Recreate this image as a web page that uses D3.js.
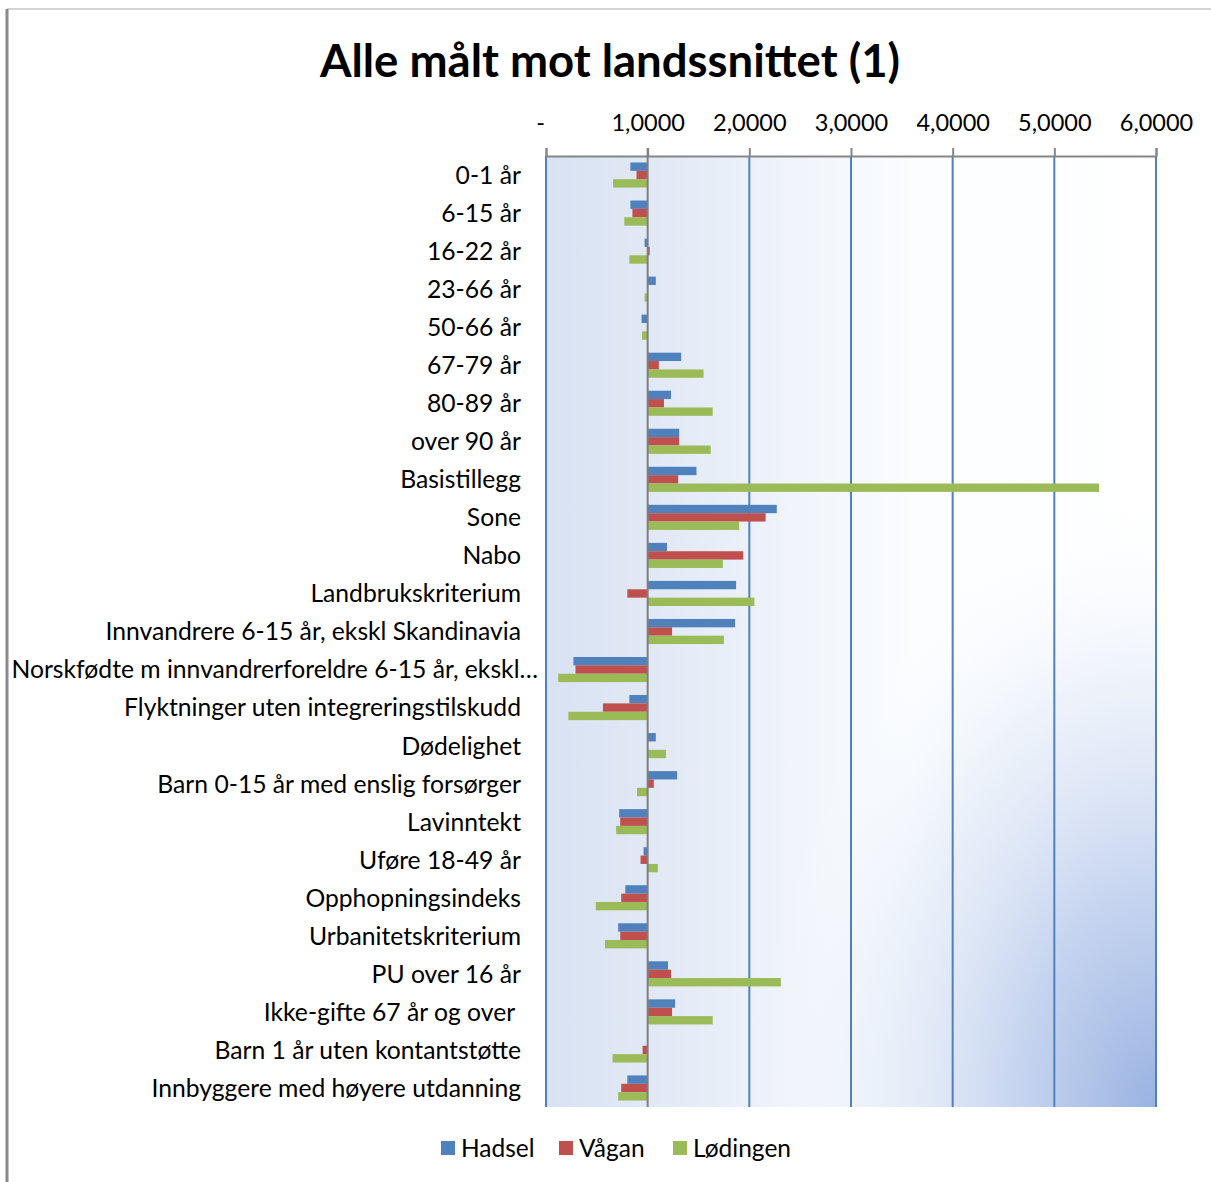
<!DOCTYPE html>
<html>
<head>
<meta charset="utf-8">
<script src="https://cdn.jsdelivr.net/npm/d3@7"></script>
<style>
  html, body { margin: 0; padding: 0; background: #fff; }
  svg { display: block; }
  text { font-family: Lato, "Open Sans", "DejaVu Sans", sans-serif; fill: #000; }
</style>
</head>
<body>
<svg id="chart" width="1211" height="1182"></svg>
<script>
// Index values per municipality, measured against the national average (1.0)
const categories = [
  "0-1 år", "6-15 år", "16-22 år", "23-66 år", "50-66 år", "67-79 år", "80-89 år",
  "over 90 år", "Basistillegg", "Sone", "Nabo", "Landbrukskriterium",
  "Innvandrere 6-15 år, ekskl Skandinavia",
  "Norskfødte m innvandrerforeldre 6-15 år, ekskl…",
  "Flyktninger uten integreringstilskudd", "Dødelighet",
  "Barn 0-15 år med enslig forsørger", "Lavinntekt", "Uføre 18-49 år",
  "Opphopningsindeks", "Urbanitetskriterium", "PU over 16 år",
  "Ikke-gifte 67 år og over\u00a0", "Barn 1 år uten kontantstøtte",
  "Innbyggere med høyere utdanning"
];
const seriesNames = ["Hadsel", "Vågan", "Lødingen"];
const hadsel = [0.83, 0.83, 0.97, 1.08, 0.94, 1.33, 1.23, 1.31, 1.48, 2.27, 1.19, 1.87, 1.86,
  0.27, 0.82, 1.08, 1.29, 0.72, 0.96, 0.78, 0.71, 1.20, 1.27, 1.00, 0.80];
const vagan = [0.89, 0.85, 1.02, 1.00, 0.995, 1.11, 1.16, 1.31, 1.30, 2.16, 1.94, 0.80, 1.24,
  0.29, 0.56, 1.00, 1.06, 0.73, 0.93, 0.74, 0.73, 1.23, 1.24, 0.95, 0.74];
const lodingen = [0.66, 0.77, 0.82, 0.97, 0.945, 1.55, 1.64, 1.62, 5.44, 1.90, 1.74, 2.05, 1.75,
  0.12, 0.22, 1.18, 0.895, 0.69, 1.10, 0.49, 0.58, 2.31, 1.64, 0.655, 0.71];
const tickValues = [0, 1, 2, 3, 4, 5, 6];
const tickLabels = ["-", "1,0000", "2,0000", "3,0000", "4,0000", "5,0000", "6,0000"];
const colors = ["#4f81bd", "#c0504d", "#9bbb59"];
const baseline = 1;

const seriesValues = [hadsel, vagan, lodingen];
const svg = d3.select("#chart");

const plot = { left: 546, right: 1156, top: 156, bottom: 1107 };

const x = d3.scaleLinear().domain([0, 6]).range([plot.left, plot.right]);
const y = d3.scaleBand().domain(categories).range([plot.top, plot.bottom]).paddingInner(0.34).paddingOuter(0.17);
const ySeries = d3.scaleBand().domain(seriesNames).range([0, y.bandwidth()]);

// chart frame
svg.append("line").attr("x1", 7).attr("x2", 1211).attr("y1", 9).attr("y2", 9)
  .attr("stroke", "#d4d4d4").attr("stroke-width", 2);
svg.append("line").attr("x1", 7).attr("x2", 7).attr("y1", 9).attr("y2", 1182)
  .attr("stroke", "#8a8a8a").attr("stroke-width", 3);

// plot background gradients
const defs = svg.append("defs");
const lin = defs.append("linearGradient").attr("id", "bgLin").attr("x1", "0").attr("x2", "1").attr("y1", "0").attr("y2", "0");
[[0, "#d8e2f3"], [0.2, "#e3eaf6"], [0.42, "#f1f5fb"], [0.6, "#fbfdff"], [1, "#ffffff"]]
  .forEach(([o, c]) => lin.append("stop").attr("offset", o).attr("stop-color", c));
const rad = defs.append("radialGradient").attr("id", "bgRad")
  .attr("cx", 1).attr("cy", 1).attr("r", 0.65).attr("fx", 1).attr("fy", 1);
[[0, "#93aee0", 0.95], [0.35, "#b3c6ea", 0.75], [0.7, "#d6e1f4", 0.4], [1, "#ffffff", 0]]
  .forEach(([o, c, a]) => rad.append("stop").attr("offset", o).attr("stop-color", c).attr("stop-opacity", a));

svg.append("rect").attr("x", plot.left).attr("y", plot.top)
  .attr("width", plot.right - plot.left).attr("height", plot.bottom - plot.top)
  .attr("fill", "url(#bgLin)");
svg.append("rect").attr("x", plot.left).attr("y", plot.top)
  .attr("width", plot.right - plot.left).attr("height", plot.bottom - plot.top)
  .attr("fill", "url(#bgRad)");

// vertical gridlines
svg.append("g").selectAll("line").data(tickValues.filter(d => d !== baseline)).join("line")
  .attr("x1", d => x(d)).attr("x2", d => x(d))
  .attr("y1", plot.top).attr("y2", plot.bottom)
  .attr("stroke", "#4f81bd").attr("stroke-width", 2);

// top value axis
const xAxis = d3.axisTop(x).tickValues(tickValues)
  .tickFormat((d, i) => tickLabels[i]).tickSize(8).tickPadding(17);
const gx = svg.append("g").attr("transform", `translate(0,${plot.top})`).call(xAxis);
gx.select(".domain").attr("stroke", "#868686").attr("stroke-width", 2);
gx.selectAll(".tick line").attr("stroke", "#868686").attr("stroke-width", 2);
gx.selectAll(".tick text").attr("font-size", 23.5).attr("fill", "#000")
  .attr("font-family", "Lato, 'Open Sans', sans-serif");
gx.selectAll(".tick").filter(d => d === 0).select("text").attr("dx", -6);

// bars
const groups = svg.append("g").selectAll("g").data(categories).join("g")
  .attr("transform", d => `translate(0,${y(d)})`);
groups.selectAll("rect")
  .data((d, i) => seriesNames.map((s, k) => ({ s, v: seriesValues[k][i], k })))
  .join("rect")
  .attr("x", d => x(Math.min(d.v, baseline)))
  .attr("width", d => Math.abs(x(d.v) - x(baseline)))
  .attr("y", d => ySeries(d.s))
  .attr("height", ySeries.bandwidth())
  .attr("fill", d => colors[d.k]);

// category axis crossing at the national average
svg.append("line").attr("x1", x(baseline)).attr("x2", x(baseline))
  .attr("y1", plot.top - 8).attr("y2", plot.bottom)
  .attr("stroke", "#7f7f7f").attr("stroke-width", 2);

// category labels
svg.append("g").selectAll("text").data(categories).join("text")
  .attr("x", (d, i) => i === 13 ? 538 : 521)
  .attr("y", d => y(d) + y.bandwidth() / 2)
  .attr("dy", "0.36em")
  .attr("text-anchor", "end")
  .attr("font-size", 24.7)
  .style("white-space", "pre")
  .text(d => d);

// title
svg.append("text").attr("x", 610).attr("y", 77).attr("text-anchor", "middle")
  .attr("font-size", 45.5).attr("font-weight", "bold").text("Alle målt mot landssnittet (1)");

// legend
const legendItems = [
  { name: "Hadsel", x: 441 }, { name: "Vågan", x: 559 }, { name: "Lødingen", x: 673 }
];
const lg = svg.append("g").selectAll("g").data(legendItems).join("g")
  .attr("transform", d => `translate(${d.x},1148)`);
lg.append("rect").attr("x", 0).attr("y", -7).attr("width", 14).attr("height", 14)
  .attr("fill", (d, i) => colors[i]);
lg.append("text").attr("x", 20).attr("dy", "0.36em").attr("font-size", 24.5).text(d => d.name);
</script>
</body>
</html>
